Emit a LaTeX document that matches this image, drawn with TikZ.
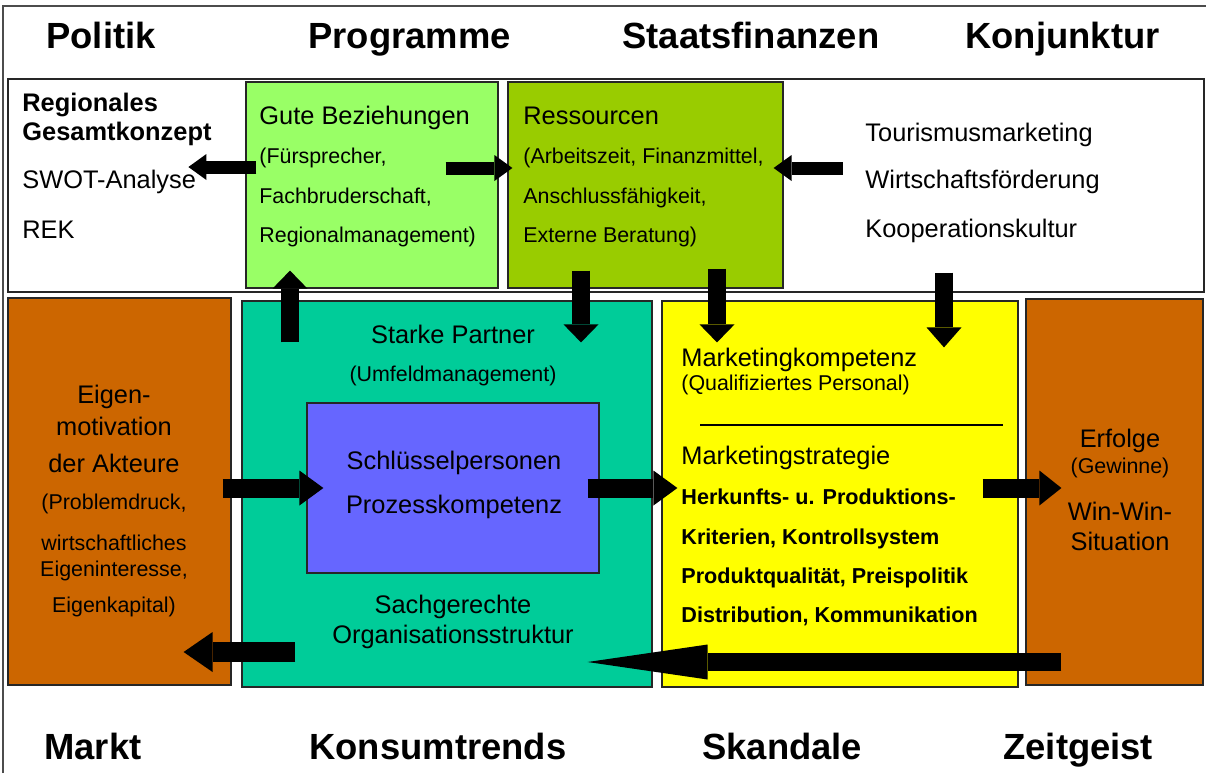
\documentclass[tikz,border=0pt]{standalone}
\usepackage{fontspec}
\setmainfont{Liberation Sans}
\usetikzlibrary{arrows.meta,fit}

\definecolor{hellgruen}{HTML}{99FF66}
\definecolor{olivgruen}{HTML}{99CC00}
\definecolor{tuerkis}{HTML}{00CC99}
\definecolor{violett}{HTML}{6666FF}
\definecolor{gelb}{HTML}{FFFF00}
\definecolor{braun}{HTML}{CC6600}

\tikzset{
	box/.style={draw=black!85, line width=0.6pt, inner sep=0pt},
	titel/.style={inner sep=0pt, anchor=base west, font=\fontsize{18.2}{22}\selectfont\bfseries},
	gross/.style={inner sep=0pt, anchor=base west, font=\fontsize{12.7}{15}\selectfont},
	klein/.style={inner sep=0pt, anchor=base west, font=\fontsize{10.7}{12.5}\selectfont},
	fett/.style={inner sep=0pt, anchor=base west, font=\fontsize{10.8}{12.5}\selectfont\bfseries},
	pfeilS/.style={line width=6.5pt, -{Triangle[length=9pt,width=13pt,line width=0pt]}},
	pfeilV/.style={line width=9.25pt, -{Triangle[length=9pt,width=17.5pt,line width=0pt]}},
	pfeilM/.style={line width=9.5pt, -{Triangle[length=12pt,width=17.5pt,line width=0pt]}},
	pfeilL/.style={line width=10pt, -{Triangle[length=14.5pt,width=20pt,line width=0pt]}},
	pfeilR/.style={line width=9pt, -{Triangle[length=60pt,width=17.5pt,line width=0pt]}}
}

\begin{document}
\begin{tikzpicture}[x=0.5pt, y=-0.5pt]
	\useasboundingbox (0,0) rectangle (1206,773);
	\draw[black!70, line width=0.8pt] (3,773) -- (3,6) -- (1206,6);
	% Kaesten
	\node[box, fill=white, fit={(8,79) (1204,292)}] (oben) {};
	\node[box, fill=hellgruen, fit={(246,82) (498,288)}] (gute) {};
	\node[box, fill=olivgruen, fit={(508,82) (783,288)}] (ress) {};
	\node[box, fill=braun, fit={(8,298) (231,685)}] (eigen) {};
	\node[box, fill=tuerkis, fit={(242,301) (652,687)}] (partner) {};
	\node[box, fill=violett, fit={(307,403) (599,573)}] (schluessel) {};
	\node[box, fill=gelb, fit={(662,301) (1018,687)}] (marketing) {};
	\node[box, fill=braun, fit={(1026,299) (1203,685)}] (erfolg) {};
	\draw[black, line width=0.6pt] (700,425) -- (1003,425);
	% Rahmenbedingungen oben und unten
	\node[titel] (politik) at (46,48) {Politik};
	\node[titel] (programme) at (308,48) {Programme};
	\node[titel] (finanzen) at (622,48) {Staatsfinanzen};
	\node[titel] (konjunktur) at (965,48) {Konjunktur};
	\node[titel] (markt) at (44,759) {Markt};
	\node[titel] (konsum) at (309,759) {Konsumtrends};
	\node[titel] (skandale) at (702,759) {Skandale};
	\node[titel] (zeitgeist) at (1003,759) {Zeitgeist};
	% oberer Kasten
	\node[gross, font=\fontsize{12.7}{15}\selectfont\bfseries] (regional) at (22,111) {Regionales};
	\node[gross, font=\fontsize{12.7}{15}\selectfont\bfseries] (gesamt) at (22,140) {Gesamtkonzept};
	\node[gross] (swot) at (22,188) {SWOT-Analyse};
	\node[gross] (rek) at (22,238) {REK};
	\node[gross] (gute1) at (259,124) {Gute Beziehungen};
	\node[klein] (gute2) at (259,163) {(Fürsprecher,};
	\node[klein] (gute3) at (259,203) {Fachbruderschaft,};
	\node[klein] (gute4) at (259,242) {Regionalmanagement)};
	\node[gross] (ress1) at (523,124) {Ressourcen};
	\node[klein] (ress2) at (523,163) {(Arbeitszeit, Finanzmittel,};
	\node[klein] (ress3) at (523,203) {Anschlussfähigkeit,};
	\node[klein] (ress4) at (523,242) {Externe Beratung)};
	\node[gross] (tourismus) at (865,141) {Tourismusmarketing};
	\node[gross] (wirtschaft) at (865,188) {Wirtschaftsförderung};
	\node[gross] (koop) at (865,237) {Kooperationskultur};
	% Akteure
	\node[gross, anchor=base] (eigen1) at (114,403) {Eigen-};
	\node[gross, anchor=base] (eigen2) at (114,435) {motivation};
	\node[gross, anchor=base] (eigen3) at (114,472) {der Akteure};
	\node[klein, anchor=base] (eigen4) at (114,509) {(Problemdruck,};
	\node[klein, anchor=base] (eigen5) at (114,550) {wirtschaftliches};
	\node[klein, anchor=base] (eigen6) at (114,576) {Eigeninteresse,};
	\node[klein, anchor=base] (eigen7) at (114,612) {Eigenkapital)};
	% Partner
	\node[gross, anchor=base] (partner1) at (453,343) {Starke Partner};
	\node[klein, anchor=base] (partner2) at (453,381) {(Umfeldmanagement)};
	\node[gross, anchor=base] (schluessel1) at (454,469) {Schlüsselpersonen};
	\node[gross, anchor=base] (schluessel2) at (454,513) {Prozesskompetenz};
	\node[gross, anchor=base] (partner3) at (453,613) {Sachgerechte};
	\node[gross, anchor=base] (partner4) at (453,643) {Organisationsstruktur};
	% Marketing
	\node[gross] (mark1) at (681,366) {Marketingkompetenz};
	\node[klein] (mark2) at (681,390) {(Qualifiziertes Personal)};
	\node[gross] (mark3) at (681,464) {Marketingstrategie};
	\node[fett] (mark4) at (681,504) {Herkunfts- u. Produktions-};
	\node[fett] (mark5) at (681,544) {Kriterien, Kontrollsystem};
	\node[fett] (mark6) at (681,583) {Produktqualität, Preispolitik};
	\node[fett] (mark7) at (681,622) {Distribution, Kommunikation};
	% Erfolge
	\node[gross, anchor=base] (erfolg1) at (1120,447) {Erfolge};
	\node[klein, anchor=base] (erfolg2) at (1120,473) {(Gewinne)};
	\node[gross, anchor=base] (erfolg3) at (1120,520) {Win-Win-};
	\node[gross, anchor=base] (erfolg4) at (1120,550) {Situation};
	% Pfeile
	\draw[pfeilS] ([shift={(11,-18)}]gute.west) -- ([shift={(181,-18.5)}]oben.west);
	\draw[pfeilS] ([shift={(-53,-17)}]gute.east) -- ([shift={(5,-17)}]ress.west);
	\draw[pfeilS] ([shift={(-362,-17.5)}]oben.east) -- ([shift={(-10,-17)}]ress.east);
	\draw[pfeilV] ([shift={(-157,42)}]partner.north) -- ([shift={(-82,-18)}]gute.south);
	\draw[pfeilV] ([shift={(-64.5,-18)}]ress.south) -- ([shift={(134,42)}]partner.north);
	\draw[pfeilV] ([shift={(71.5,-20)}]ress.south) -- ([shift={(-123,42)}]marketing.north);
	\draw[pfeilV, -{Triangle[length=10pt,width=17.5pt,line width=0pt]}] ([shift={(338,-20)}]oben.south) -- ([shift={(104,47)}]marketing.north);
	\draw[pfeilM] ([shift={(-9,-3.5)}]eigen.east) -- ([shift={(17,0)}]schluessel.west);
	\draw[pfeilM] ([shift={(-12,0)}]schluessel.east) -- ([shift={(16,-6)}]marketing.west);
	\draw[pfeilM, -{Triangle[length=11pt,width=17.5pt,line width=0pt]}] ([shift={(-36,-6)}]marketing.east) -- ([shift={(36,-4)}]erfolg.west);
	\draw[pfeilL] ([shift={(54,158)}]partner.west) -- ([shift={(-48,160.5)}]eigen.east);
	\draw[pfeilR] ([shift={(36,170)}]erfolg.west) -- ([shift={(-65,168)}]partner.east);
\end{tikzpicture}
\end{document}
